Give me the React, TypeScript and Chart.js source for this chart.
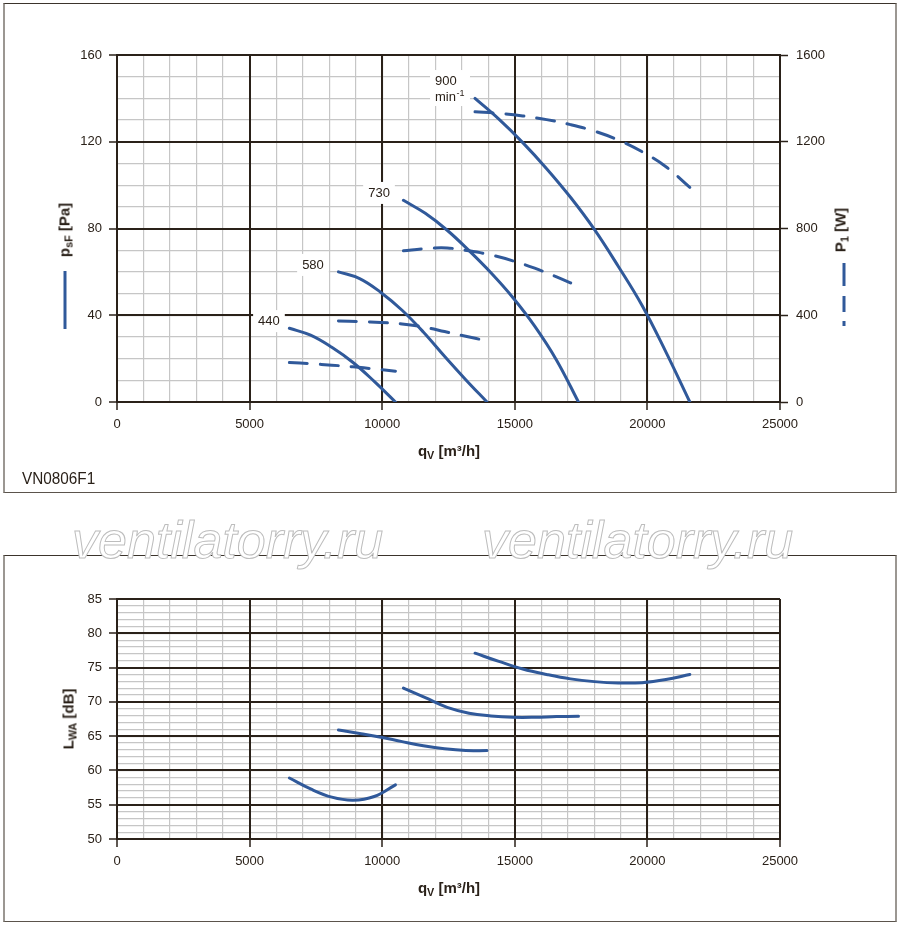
import { useEffect, useRef } from "react"
import { Chart, registerables } from "chart.js"

Chart.register(...registerables)

const FONT = '"Liberation Sans", Arial, Helvetica, sans-serif'
const INK = "#2a2119"
const MINOR = "#c6c6c6"
const BLUE = "#30599a"

// flow rate q_V [m³/h] sampled along each speed curve
const q440 = [6500, 7300, 8100, 8900, 9700, 10500]
const q580 = [8350, 9150, 9950, 10750, 11550, 12350, 13150, 13950]
const q730 = [10800, 11625, 12450, 13275, 14100, 14925, 15750, 16575, 17400]
const q900 = [13500, 14400, 15300, 16200, 17100, 18000, 18900, 19800, 20700, 21600]

// static pressure p_sF [Pa]
const psf440 = [34, 30.8, 25.2, 18.2, 9.5, 0]
const psf580 = [60, 56.9, 50.5, 42.3, 32.3, 21.1, 10.3, 0]
const psf730 = [93, 87, 79.2, 69.8, 59.6, 48.2, 35, 19.3, 0]
const psf900 = [140, 130.4, 119.6, 107.6, 94.4, 79.6, 62.6, 44.5, 23, 0]

// input power P1 [W]
const p1_440 = [182, 176.5, 170, 162, 152.5, 142]
const p1_580 = [374, 371, 366.5, 360, 346, 325, 303, 282]
const p1_730 = [697, 707, 710, 697, 678, 651, 617, 577, 533]
const p1_900 = [1338, 1331, 1319, 1302, 1279, 1249, 1208, 1154, 1085, 990]

// sound power level L_WA [dB]
const lwa440 = [58.9, 57.3, 56.1, 55.65, 56.2, 57.9]
const lwa580 = [65.9, 65.4, 64.85, 64.2, 63.6, 63.15, 62.9, 62.9]
const lwa730 = [72.0, 70.6, 69.2, 68.35, 67.95, 67.75, 67.75, 67.85, 67.9]
const lwa900 = [77.1, 75.9, 74.8, 74.0, 73.35, 72.95, 72.75, 72.8, 73.25, 74.0]

// speed labels (min-1) and where they sit on the pressure chart
const speedLabels = ["440", "580", "730", "900"]
const labelFlow = [5730, 7390, 9880, 12557]
const labelPressure = [37.3, 63.2, 96.4, 148]

const flows = [q440, q580, q730, q900]
const pressures = [psf440, psf580, psf730, psf900]
const powers = [p1_440, p1_580, p1_730, p1_900]
const sounds = [lwa440, lwa580, lwa730, lwa900]

const toPoints = (xs: number[], ys: number[]) => xs.map((x, i) => ({ x, y: ys[i] }))

const lineStyle = {
  borderColor: BLUE,
  borderWidth: 3,
  pointRadius: 0,
  fill: false,
  tension: 0.4,
  borderCapStyle: "round",
  borderJoinStyle: "round",
}

const tickFont = { family: FONT, size: 13 }

function minorAxis(position: string, min: number, max: number, step: number) {
  return {
    type: "linear",
    position,
    min,
    max,
    z: -1,
    ticks: { display: false, stepSize: step, autoSkip: false },
    grid: { color: MINOR, lineWidth: 1.2, drawTicks: false },
    border: { display: false },
    afterFit: (s: any) => {
      if (position === "bottom") s.height = 0
      else s.width = 0
    },
  }
}

function majorAxis(position: string, min: number, max: number, step: number, size: number, padding: number) {
  return {
    type: "linear",
    position,
    min,
    max,
    ticks: {
      stepSize: step,
      font: tickFont,
      color: INK,
      padding,
      autoSkip: false,
      maxRotation: 0,
      callback: (v: any) => String(v),
    },
    grid: { color: INK, lineWidth: 2, tickLength: 8, tickColor: INK, tickWidth: 1.5 },
    border: { color: INK, width: 2 },
    afterFit: (s: any) => {
      if (position === "bottom") s.height = size
      else s.width = size
    },
  }
}

const curveLabels = {
  id: "curveLabels",
  beforeDatasetsDraw(chart: any) {
    const { ctx } = chart
    const xs = chart.scales.x
    const ys = chart.scales.y
    ctx.save()
    ctx.textBaseline = "middle"
    speedLabels.forEach((label, i) => {
      const cx = xs.getPixelForValue(labelFlow[i])
      const cy = ys.getPixelForValue(labelPressure[i])
      const last = i === speedLabels.length - 1
      ctx.font = `13px ${FONT}`
      const mw = ctx.measureText("min").width
      const w = (last ? mw + 9 : ctx.measureText(label).width) + 10
      const h = last ? 36 : 22
      ctx.fillStyle = "#fff"
      ctx.fillRect(cx - w / 2, cy - 11, w, h)
      ctx.fillStyle = INK
      if (last) {
        const left = cx - (mw + 9) / 2
        ctx.textAlign = "left"
        ctx.fillText(label, left, cy)
        ctx.fillText("min", left, cy + 16)
        ctx.font = `9px ${FONT}`
        ctx.fillText("-1", left + mw + 0.5, cy + 12)
      } else {
        ctx.textAlign = "center"
        ctx.fillText(label, cx, cy)
      }
    })
    ctx.restore()
  },
}

const legendSamples = {
  id: "legendSamples",
  afterDraw(chart: any) {
    const { ctx, chartArea } = chart
    ctx.save()
    ctx.strokeStyle = BLUE
    ctx.lineWidth = 3
    ctx.beginPath()
    ctx.moveTo(chartArea.left - 52, chartArea.top + 216)
    ctx.lineTo(chartArea.left - 52, chartArea.top + 274)
    ctx.stroke()
    ctx.setLineDash([23, 10, 16, 9])
    ctx.beginPath()
    ctx.moveTo(chartArea.right + 64, chartArea.top + 208)
    ctx.lineTo(chartArea.right + 64, chartArea.top + 271)
    ctx.stroke()
    ctx.restore()
  },
}

function PerformanceChart() {
  const chartRef = useRef<HTMLCanvasElement>(null)

  useEffect(() => {
    if (!chartRef.current) return
    const datasets: any[] = []
    flows.forEach((q, i) => {
      datasets.push({ ...lineStyle, label: `p_sF ${speedLabels[i]}`, data: toPoints(q, pressures[i]), yAxisID: "y" })
      datasets.push({
        ...lineStyle,
        label: `P1 ${speedLabels[i]}`,
        data: toPoints(q, powers[i]),
        yAxisID: "y1",
        borderDash: [18, 13],
      })
    })
    const chart = new Chart(chartRef.current, {
      type: "line",
      data: { datasets },
      options: {
        animation: false,
        responsive: false,
        layout: { padding: { top: 55, left: 0, right: 0, bottom: 0 } },
        plugins: { legend: { display: false }, tooltip: { enabled: false } },
        scales: {
          xMinor: minorAxis("bottom", 0, 25000, 1000),
          yMinor: minorAxis("left", 0, 160, 10),
          x: majorAxis("bottom", 0, 25000, 5000, 98, 7),
          y: majorAxis("left", 0, 160, 40, 117, 7),
          y1: {
            ...majorAxis("right", 0, 1600, 400, 120, 8),
            grid: { drawOnChartArea: false, tickLength: 8, tickColor: INK, tickWidth: 1.5 },
          },
        },
      } as any,
      plugins: [curveLabels, legendSamples],
    })
    return () => chart.destroy()
  }, [])

  return (
    <canvas
      ref={chartRef}
      width={900}
      height={500}
      style={{ position: "absolute", left: 0, top: 0, width: 900, height: 500 }}
    />
  )
}

function SoundChart() {
  const chartRef = useRef<HTMLCanvasElement>(null)

  useEffect(() => {
    if (!chartRef.current) return
    const datasets = flows.map((q, i) => ({
      ...lineStyle,
      label: `L_WA ${speedLabels[i]}`,
      data: toPoints(q, sounds[i]),
    }))
    const chart = new Chart(chartRef.current, {
      type: "line",
      data: { datasets },
      options: {
        animation: false,
        responsive: false,
        layout: { padding: { top: 99, left: 0, right: 120, bottom: 0 } },
        plugins: { legend: { display: false }, tooltip: { enabled: false } },
        scales: {
          xMinor: minorAxis("bottom", 0, 25000, 1000),
          yMinor: minorAxis("left", 50, 85, 1),
          x: majorAxis("bottom", 0, 25000, 5000, 86, 7),
          y: majorAxis("left", 50, 85, 5, 117, 7),
        },
      } as any,
    })
    return () => chart.destroy()
  }, [])

  return (
    <canvas
      ref={chartRef}
      width={900}
      height={425}
      style={{ position: "absolute", left: 0, top: 500, width: 900, height: 425 }}
    />
  )
}

function Sub({ children }: { children: any }) {
  return <span style={{ fontSize: "0.72em", position: "relative", top: "0.3em" }}>{children}</span>
}

const panel = (left: number, top: number, width: number, height: number): any => ({
  position: "absolute",
  left,
  top,
  width,
  height,
  boxSizing: "border-box",
  borderTop: "1px solid #3b342c",
  borderBottom: "1.5px solid #5b544c",
  borderLeft: "2px solid #9b9792",
  borderRight: "2px solid #9b9792",
})

const title = (left: number, top: number, rotate: boolean): any => ({
  position: "absolute",
  left,
  top,
  transform: rotate ? "translate(-50%, -50%) rotate(-90deg)" : "translate(-50%, -50%)",
  font: `bold 15px ${FONT}`,
  color: INK,
  whiteSpace: "nowrap",
})

const watermark = (left: number): any => ({
  position: "absolute",
  left,
  top: 514,
  font: `italic 52px ${FONT}`,
  lineHeight: "52px",
  color: "#fff",
  WebkitTextStroke: "1px #bdbdbd",
  whiteSpace: "nowrap",
})

export default function App() {
  useEffect(() => {
    document.body.style.margin = "0"
  }, [])

  return (
    <div style={{ position: "relative", width: 900, height: 925, background: "#fff", fontFamily: FONT, color: INK }}>
      <div style={panel(3, 3, 894, 490)} />
      <div style={panel(3, 555, 894, 367)} />
      <PerformanceChart />
      <SoundChart />
      <div style={title(449, 450, false)}>
        q<Sub>V</Sub> [m³/h]
      </div>
      <div style={title(64, 230, true)}>
        p<Sub>sF</Sub> [Pa]
      </div>
      <div style={title(840, 230, true)}>
        P<Sub>1</Sub> [W]
      </div>
      <div style={title(449, 887, false)}>
        q<Sub>V</Sub> [m³/h]
      </div>
      <div style={title(68, 719, true)}>
        L<Sub>WA</Sub> [dB]
      </div>
      <div
        style={{
          position: "absolute",
          left: 22,
          top: 470,
          font: `17px ${FONT}`,
          lineHeight: "17px",
          transform: "scaleX(0.9)",
          transformOrigin: "left top",
        }}
      >
        VN0806F1
      </div>
      <div style={watermark(72)}>ventilatorry.ru</div>
      <div style={watermark(482)}>ventilatorry.ru</div>
    </div>
  )
}
